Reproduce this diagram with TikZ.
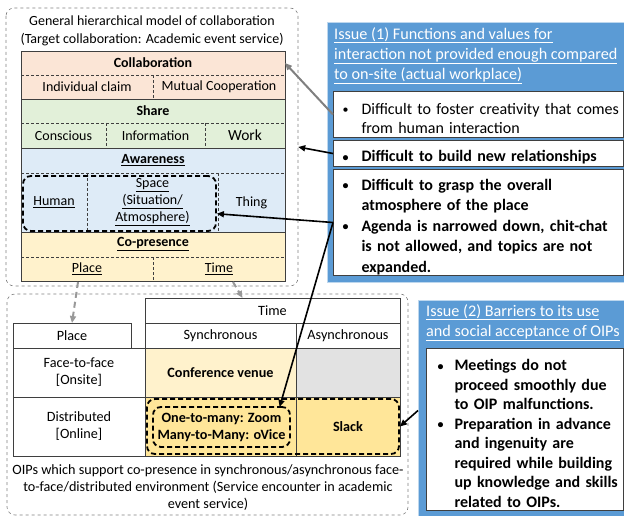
\documentclass[tikz,border=0pt]{standalone}
\usepackage{fontspec}
\setmainfont{Carlito}
\usetikzlibrary{arrows.meta,positioning,calc}
\definecolor{collabc}{HTML}{FBE5D6}
\definecolor{sharec}{HTML}{E2F0D9}
\definecolor{awarec}{HTML}{DEEBF7}
\definecolor{copresc}{HTML}{FFF2CC}
\definecolor{onlinec}{HTML}{FFE699}
\definecolor{nonec}{HTML}{E2E2E2}
\definecolor{issuec}{HTML}{5B9BD5}
\definecolor{linec}{HTML}{3F3F3F}
\newcommand\bitem[2][9pt]{\par\noindent\hangindent=28pt\hangafter=1\makebox[28pt][l]{\hspace{#1}\raisebox{0.5pt}{\fontsize{12}{12}\selectfont\textbullet}}#2\par}
\tikzset{
    cell/.style={inner sep=0pt, outer sep=0pt, align=center, font=\fontsize{14}{17}\selectfont},
    sep/.style={draw=linec, densely dashed, line width=0.6pt},
    block/.style={draw=linec, line width=0.9pt},
    tcell/.style={cell, draw=linec, line width=0.8pt, font=\fontsize{14.2}{17}\selectfont},
    frame/.style={draw=gray, dashed, line width=0.6pt, rounded corners=8pt},
    hl/.style={draw=black, line width=1.8pt, dash pattern=on 5pt off 3pt, rounded corners=8pt, inner sep=0pt},
    issue/.style={fill=issuec, draw=issuec!40, line width=1pt, inner sep=0pt},
    issuetitle/.style={text=white, align=left, inner sep=0pt, font=\fontsize{16.2}{20}\selectfont},
    bullets/.style={draw=linec, fill=white, line width=1pt, inner sep=0pt, align=left, font=\fontsize{16}{19.5}\selectfont},
    link/.style={-{Triangle[length=7pt,width=6pt]}, line width=1.6pt},
    glink/.style={link, draw=gray, line width=2pt},
    dlink/.style={glink, draw=gray!80, dash pattern=on 6pt off 4pt}
}
\begin{document}
\begin{tikzpicture}[x=1pt, y=-1pt]
    \useasboundingbox (0,0) rectangle (624,516);
    % frames
    \draw[frame] (6,8) rectangle (298,286);
    \node (topbox) at (152,147) [minimum width=292, minimum height=278, inner sep=0pt] {};
    \draw[frame] (7,294) rectangle (408,515);
    \node[cell, font=\fontsize{14}{18}\selectfont] (title) at (152,31) {General hierarchical model of collaboration\\(Target collaboration: Academic event service)};
    % hierarchical model
    \node[cell, fill=collabc, minimum width=264, minimum height=24] (collab) at (153,63) {\textbf{Collaboration}};
    \node[cell, fill=collabc, minimum width=132, minimum height=24] (claim) at (87,87) {Individual claim};
    \node[cell, fill=collabc, minimum width=132, minimum height=24] (mutual) at (219,87) {Mutual Cooperation};
    \node[cell, fill=sharec, minimum width=264, minimum height=24] (share) at (153,111) {\textbf{Share}};
    \node[cell, fill=sharec, minimum width=85, minimum height=25] (conscious) at (63.5,135.5) {Conscious};
    \node[cell, fill=sharec, minimum width=99, minimum height=25] (info) at (155.5,135.5) {Information};
    \node[cell, fill=sharec, minimum width=80, minimum height=25, font=\fontsize{15.5}{17}\selectfont] (work) at (245,135.5) {Work};
    \node[cell, fill=awarec, minimum width=264, minimum height=25] (aware) at (153,160.5) {\textbf{\underline{Awareness}}};
    \node[cell, fill=awarec, minimum width=66, minimum height=59] (human) at (54,202.5) {\underline{Human}};
    \node[cell, fill=awarec, minimum width=131, minimum height=59] (space) at (152.5,202.5) {\underline{Space}\\\underline{(Situation/}\\\underline{Atmosphere)}};
    \node[cell, fill=awarec, minimum width=67, minimum height=59] (thing) at (251.5,202.5) {Thing};
    \node[cell, fill=copresc, minimum width=264, minimum height=25] (copres) at (153,244.5) {\textbf{\underline{Co-presence}}};
    \node[cell, fill=copresc, minimum width=132, minimum height=24] (place) at (87,269) {\underline{Place}};
    \node[cell, fill=copresc, minimum width=132, minimum height=24] (time) at (219,269) {\underline{Time}};
    \draw[sep] (collab.south west) -- (collab.south east);
    \draw[sep] (claim.north east) -- (claim.south east);
    \draw[sep] (share.south west) -- (share.south east);
    \draw[sep] (conscious.north east) -- (conscious.south east);
    \draw[sep] (info.north east) -- (info.south east);
    \draw[sep] (aware.south west) -- (aware.south east);
    \draw[sep] (human.north east) -- (human.south east);
    \draw[sep] (space.north east) -- (space.south east);
    \draw[sep] (copres.south west) -- (copres.south east);
    \draw[sep] (place.north east) -- (place.south east);
    \foreach \a/\b in {collab/mutual, share/work, aware/thing, copres/time}
        \draw[block] (\a.north west) rectangle (\b.south east);
    \node[hl, minimum width=193, minimum height=55] (awbox) at (119.5,203.5) {};
    % OIP table
    \node[tcell, minimum width=255, minimum height=25] (timehd) at (272.5,310.5) {Time};
    \node[tcell, minimum width=118, minimum height=25] (placehd) at (72,335.5) {Place};
    \node[tcell, minimum width=151, minimum height=25] (synchd) at (220.5,335.5) {Synchronous};
    \node[tcell, minimum width=104, minimum height=25] (asynchd) at (348,335.5) {Asynchronous};
    \node[tcell, minimum width=132, minimum height=49] (f2f) at (79,372.5) {Face-to-face\\{[Onsite]}};
    \node[tcell, fill=copresc, minimum width=151, minimum height=49] (venue) at (220.5,372.5) {\textbf{Conference venue}};
    \node[tcell, fill=nonec, minimum width=104, minimum height=49] (asyncf2f) at (348,372.5) {};
    \node[tcell, minimum width=132, minimum height=59] (dist) at (79,426.5) {Distributed\\{[Online]}};
    \node[tcell, fill=onlinec, minimum width=151, minimum height=59] (syncdist) at (220.5,426.5) {};
    \node[tcell, fill=onlinec, minimum width=104, minimum height=59] (slack) at (348,426.5) {\textbf{Slack}};
    \node[hl, minimum width=252, minimum height=55] (dbox) at (273,426.5) {};
    \node[hl, cell, minimum width=137, minimum height=40, font=\fontsize{14.2}{17}\selectfont\bfseries] (zoombox) at (221.5,427) {One-to-many: Zoom\\Many-to-Many: oVice};
    \node[cell, font=\fontsize{14.2}{17}\selectfont] (caption) at (208,488) {OIPs which support co-presence in synchronous/asynchronous face-\\to-face/distributed environment (Service encounter in academic\\event service)};
    % issue 1
    \node[issue, anchor=north west, minimum width=297, minimum height=260] (issue1) at (327,22) {};
    \node[issuetitle, anchor=north west] (title1) at (334,27) {\underline{Issue (1) Functions and values for}\\\underline{interaction not provided enough compared}\\\underline{to on-site (actual workplace)}};
    \node[bullets, anchor=north west, text width=290, minimum height=46] (b1) at (333,91) {\bitem{Difficult to foster creativity that comes\newline from human interaction}};
    \node[bullets, anchor=north west, text width=290, minimum height=26, font=\fontsize{16}{19.5}\selectfont\bfseries] (b2) at (333,140) {\bitem{Difficult to build new relationships}};
    \node[bullets, anchor=north west, text width=290, minimum height=106, font=\fontsize{16}{20.5}\selectfont\bfseries] (b3) at (333,169) {\bitem{Difficult to grasp the overall\newline atmosphere of the place}\bitem{Agenda is narrowed down, chit-chat\newline is not allowed, and topics are not\newline expanded.}};
    % issue 2
    \node[issue, anchor=north west, minimum width=206, minimum height=220] (issue2) at (418,300) {};
    \node[issuetitle, anchor=north west] (title2) at (426,304) {\underline{Issue (2) Barriers to its use}\\\underline{and social acceptance of OIPs}};
    \node[bullets, anchor=north west, text width=197, minimum height=162, font=\fontsize{16}{19.5}\selectfont\bfseries] (b4) at (426,348) {\bitem[11pt]{Meetings do not\newline proceed smoothly due\newline to OIP malfunctions.}\bitem[11pt]{Preparation in advance\newline and ingenuity are\newline required while building\newline up knowledge and skills\newline related to OIPs.}};
    % links
    \draw[glink] (b1.west) -- (collab.east);
    \draw[link] (b2.west) -- (topbox.east);
    \draw[link] (b3.west) -- (awbox.-6);
    \draw[link] (b3.west) -- (zoombox.19);
    \draw[link] (issue2.west) -- (dbox.east);
    \draw[dlink] ($(place.south)+(-9,1)$) -- (placehd.north);
    \draw[dlink] ($(time.south)+(14,1)$) -- ($(timehd.north)+(-30,0)$);
\end{tikzpicture}
\end{document}
